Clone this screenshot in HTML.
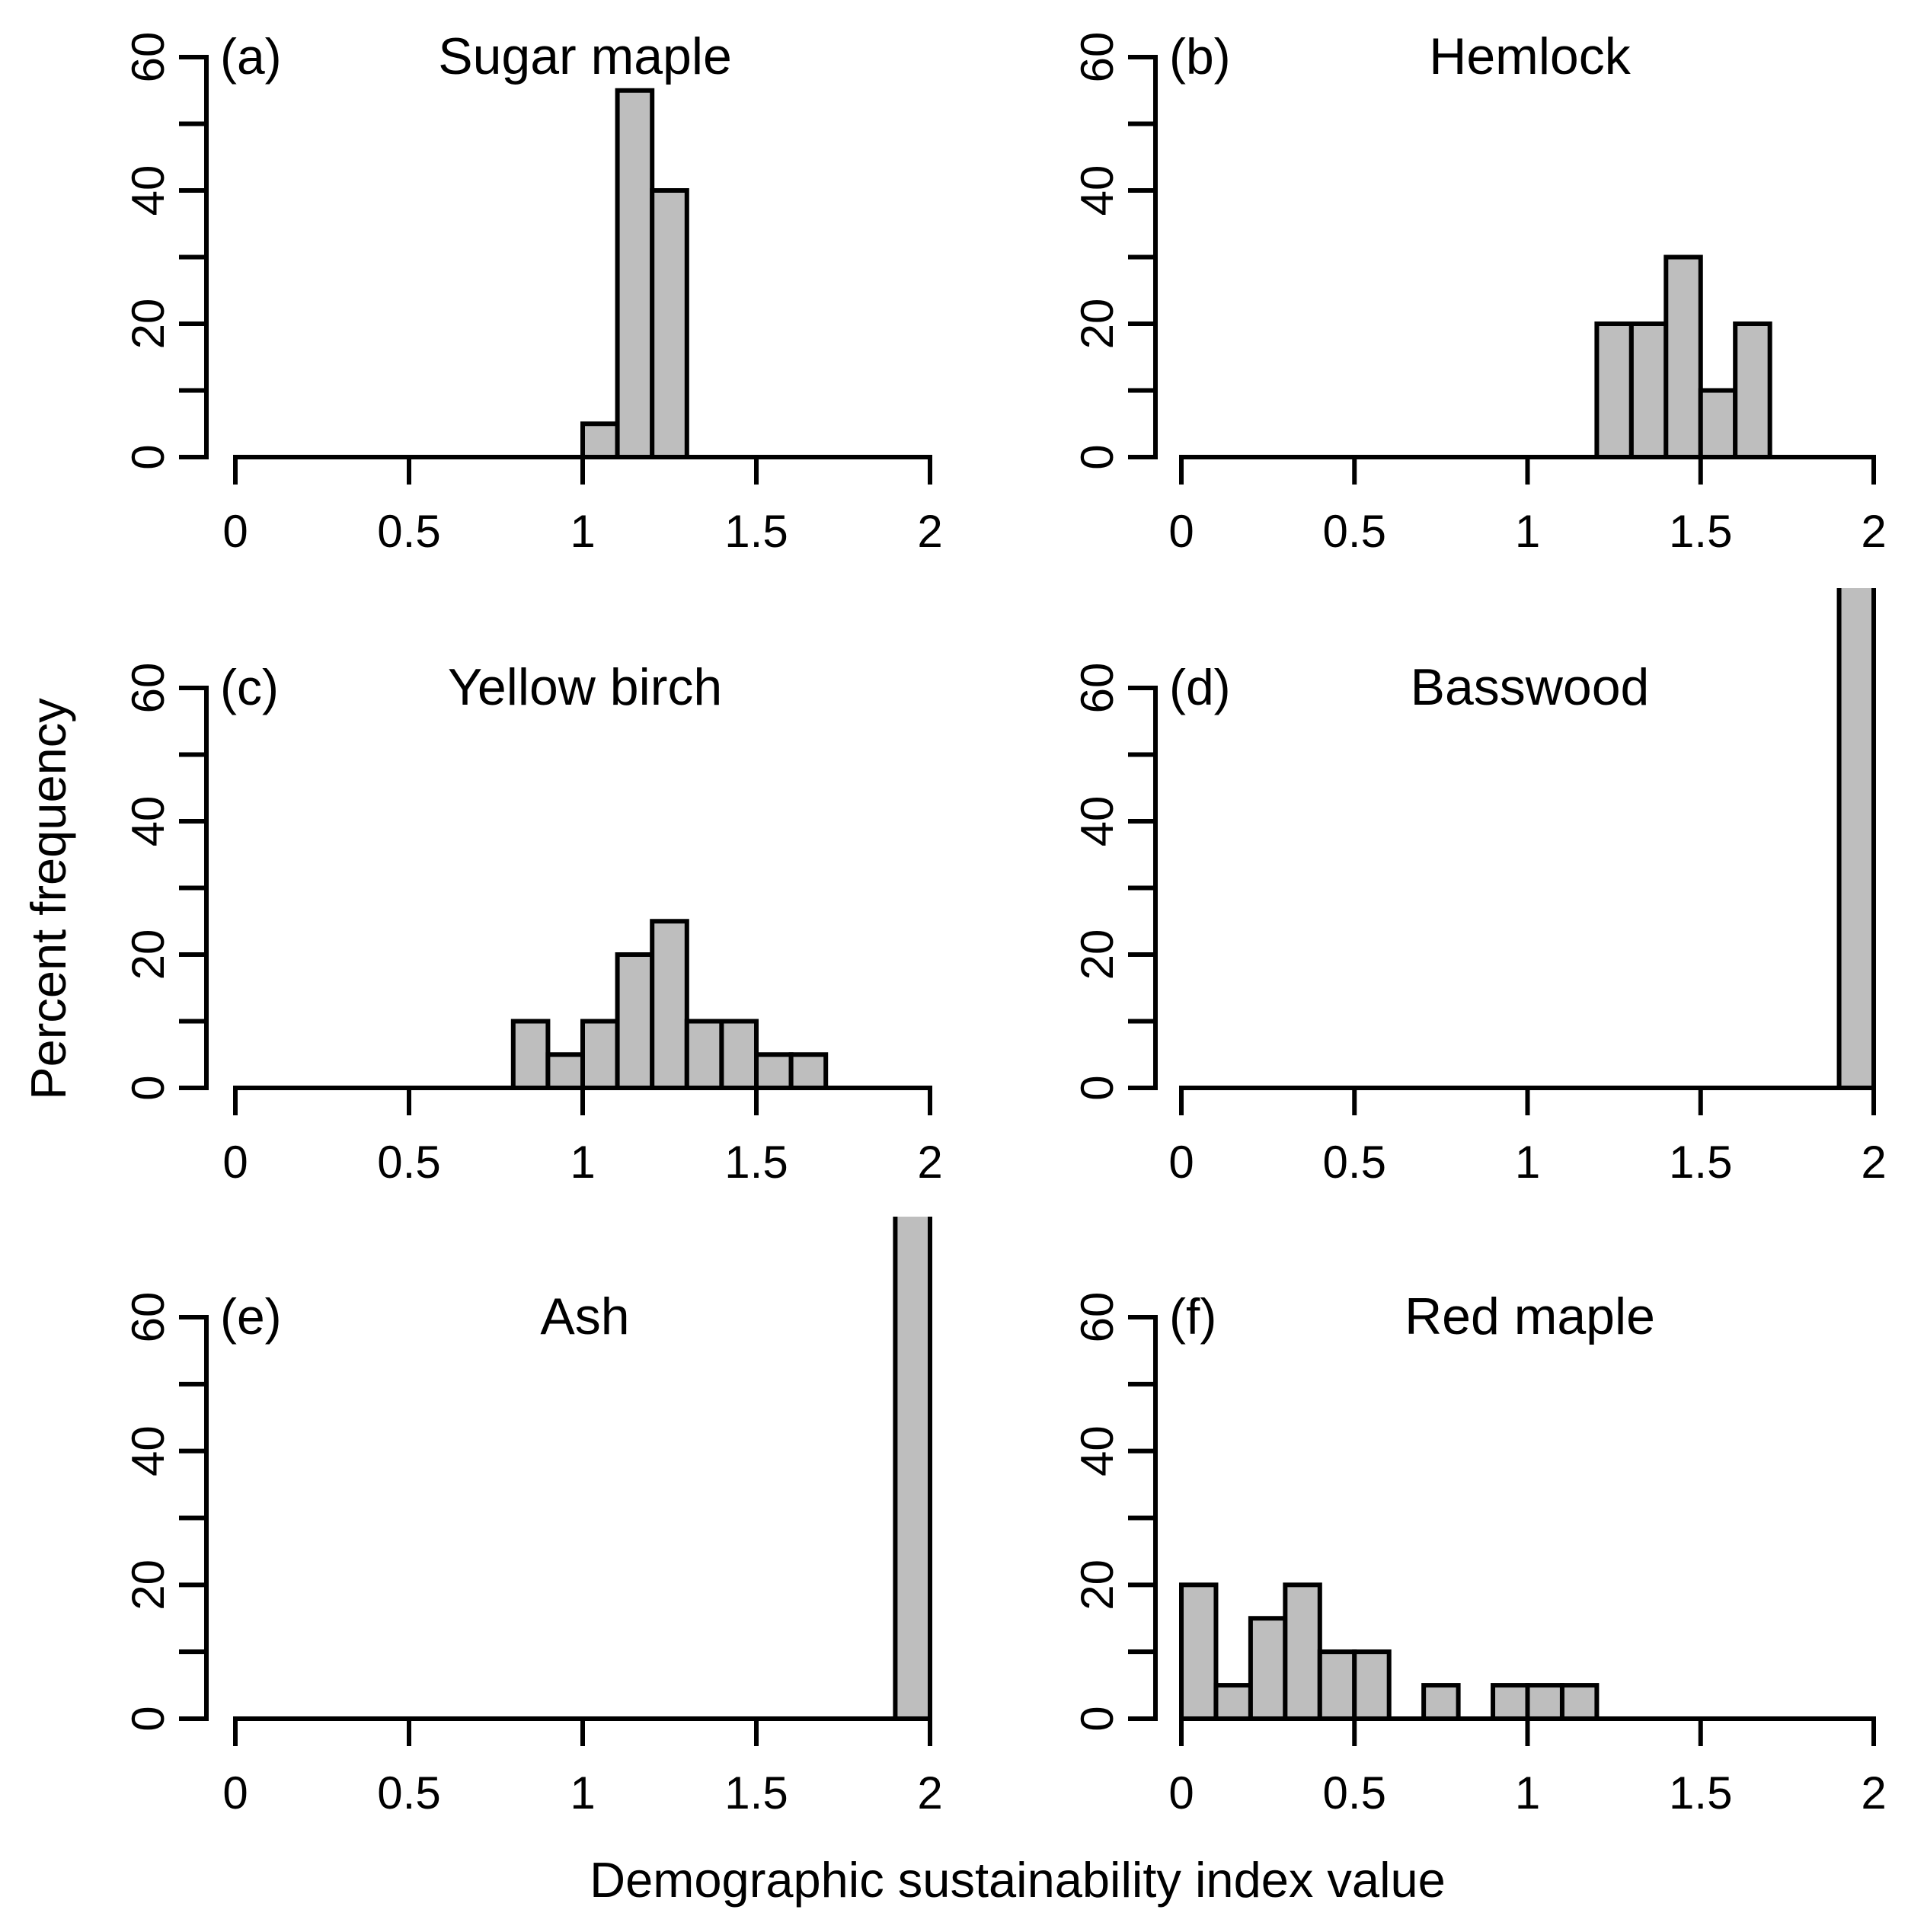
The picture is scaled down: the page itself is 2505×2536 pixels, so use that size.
<!DOCTYPE html>
<html><head><meta charset="utf-8"><style>
body{margin:0;background:#fff}
svg{display:block}
text{font-family:"Liberation Sans",Arial,sans-serif;fill:#000}
</style></head><body>
<svg id="fig" width="2505" height="2536" viewBox="0 0 2505 2536">
<text x="1336" y="2490" font-size="65" text-anchor="middle">Demographic sustainability index value</text>
<text transform="translate(86,1180) rotate(-90)" font-size="65" text-anchor="middle">Percent frequency</text>
</svg>
<script>
const binWidth = 0.1;
const xTicks = [0, 0.5, 1, 1.5, 2];
const xTickLabels = ["0", "0.5", "1", "1.5", "2"];
const yTicks = [0, 10, 20, 30, 40, 50, 60];
const yTickLabels = ["0", "", "20", "", "40", "", "60"];
const panelNames = ["Sugar maple", "Hemlock", "Yellow birch", "Basswood", "Ash", "Red maple"];
const panelLetters = ["(a)", "(b)", "(c)", "(d)", "(e)", "(f)"];
const binsA = [1.0, 1.1, 1.2];
const valsA = [5, 55, 40];
const binsB = [1.2, 1.3, 1.4, 1.5, 1.6];
const valsB = [20, 20, 30, 10, 20];
const binsC = [0.8, 0.9, 1.0, 1.1, 1.2, 1.3, 1.4, 1.5, 1.6];
const valsC = [10, 5, 10, 20, 25, 10, 10, 5, 5];
const binsD = [1.9];
const valsD = [100];
const binsE = [1.9];
const valsE = [100];
const binsF = [0, 0.1, 0.2, 0.3, 0.4, 0.5, 0.7, 0.9, 1.0, 1.1];
const valsF = [20, 5, 15, 20, 10, 10, 5, 5, 5, 5];

const NS = "http://www.w3.org/2000/svg";
const svg = document.getElementById("fig");
const allBins = [binsA, binsB, binsC, binsD, binsE, binsF];
const allVals = [valsA, valsB, valsC, valsD, valsE, valsF];
const colX = [{ax:271, x0:309, x1:1221}, {ax:1517, x0:1551, x1:2460}];
const rowY = [{y0:600, y60:75, clip:0}, {y0:1428, y60:903, clip:772}, {y0:2256, y60:1729, clip:1597}];
function mk(tag, attrs, parent){const e=document.createElementNS(NS,tag);for(const k in attrs)e.setAttribute(k,attrs[k]);(parent||svg).appendChild(e);return e;}
const defs = mk("defs",{});
for (let p = 0; p < 6; p++) {
  const c = colX[p % 2], r = rowY[Math.floor(p / 2)];
  const sx = v => c.x0 + (v - 0) / 2 * (c.x1 - c.x0);
  const sy = v => r.y0 - v / 60 * (r.y0 - r.y60);
  const g = mk("g", {});
  
  
  const cp = mk("clipPath", {id: "cp" + p}, defs);
  mk("rect", {x: c.ax, y: r.clip, width: 1000, height: r.y0 - r.clip + 5}, cp);
  const bars = mk("g", {"clip-path": "url(#cp" + p + ")"}, g);
  allBins[p].forEach((b, i) => {
    const v = allVals[p][i];
    const rect = mk("rect", {x: sx(b), y: sy(v), width: sx(b + binWidth) - sx(b), height: sy(0) - sy(v), fill: "#bebebe", stroke: "#000", "stroke-width": 6}, bars);
    
    
  });
  const xa = mk("line", {x1: sx(0), x2: sx(2), y1: r.y0, y2: r.y0, stroke: "#000", "stroke-width": 6, "stroke-linecap": "square"}, g);
  
  
  xTicks.forEach((t, i) => {
    mk("line", {x1: sx(t), x2: sx(t), y1: r.y0, y2: r.y0 + 36, stroke: "#000", "stroke-width": 6}, g);
    const tl = mk("text", {x: sx(t), y: r.y0 + 118, "font-size": 60, "text-anchor": "middle"}, g);
    tl.textContent = xTickLabels[i];
    
    
  });
  const ya = mk("line", {x1: c.ax, x2: c.ax, y1: sy(0), y2: sy(60), stroke: "#000", "stroke-width": 6, "stroke-linecap": "square"}, g);
  
  
  yTicks.forEach((t, i) => {
    mk("line", {x1: c.ax - 36, x2: c.ax, y1: sy(t), y2: sy(t), stroke: "#000", "stroke-width": 6}, g);
    if (yTickLabels[i]) {
      const tl = mk("text", {transform: "translate(" + (c.ax - 56) + "," + sy(t) + ") rotate(-90)", "font-size": 60, "text-anchor": "middle"}, g);
      tl.textContent = yTickLabels[i];
      
      
    }
  });
  const lt = mk("text", {x: c.ax + 18, y: r.y60 + 22, "font-size": 66}, g);
  lt.textContent = panelLetters[p];
  
  
  const tt = mk("text", {x: (c.x0 + c.x1) / 2 + 3, y: r.y60 + 22, "font-size": 68, "text-anchor": "middle"}, g);
  tt.textContent = panelNames[p];
  
  
}
</script>
</body></html>
